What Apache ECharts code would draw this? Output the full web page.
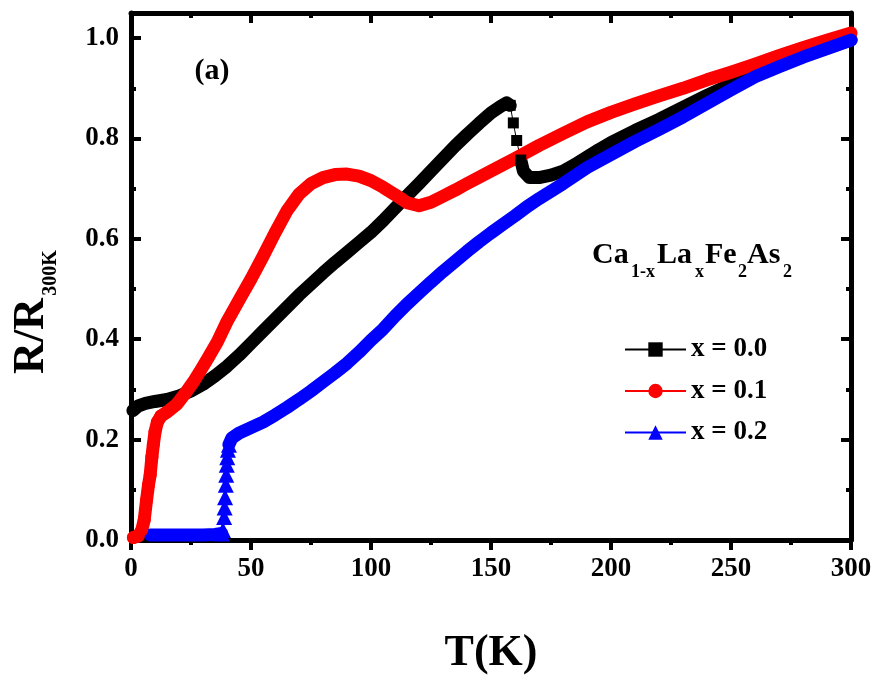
<!DOCTYPE html>
<html>
<head>
<meta charset="utf-8">
<script src="https://cdn.jsdelivr.net/npm/echarts@6/dist/echarts.min.js"></script>
<style>
  html, body { margin: 0; padding: 0; background: #fff; }
  #main { width: 879px; height: 681px; }
</style>
</head>
<body>
<div id="main"></div>
<script type="text/javascript">
// x = 0.0 : before the step, the drop itself, after the step
var blackPre = [[0.8,0.258],[3,0.267],[6,0.272],[10,0.276],[15,0.280],[20,0.287],[25,0.297],[30,0.310],
  [35,0.327],[40,0.346],[45,0.368],[50,0.392],[55,0.416],[60,0.440],[65,0.464],[70,0.488],[75,0.510],
  [80,0.532],[85,0.553],[90,0.573],[95,0.593],[100,0.613],[105,0.636],[110,0.661],[115,0.686],
  [120,0.710],[125,0.735],[130,0.760],[135,0.785],[140,0.808],[145,0.830],[150,0.851],[154,0.864],
  [156.5,0.871],[158,0.866]];
var blackDrop = [[158,0.866],[159.3,0.831],[160.7,0.796],[162.4,0.757]];
var blackPost = [[162.4,0.757],[163.5,0.735],[166,0.722],[170,0.722],[175,0.727],[180,0.735],[185,0.748],
  [190,0.763],[195,0.778],[200,0.792],[210,0.816],[220,0.838],[230,0.862],[240,0.886],[250,0.908],
  [260,0.928],[270,0.947],[280,0.964],[290,0.980],[300,0.997]];

// x = 0.1
var redRise = [[1,0.005],[3,0.008],[4.5,0.02],[5.5,0.04],[6.5,0.08],[7.3,0.11],[8,0.13],[8.7,0.165],
  [9.3,0.19],[10,0.215],[11,0.235],[12.5,0.247]];
var redRest = [[12.5,0.247],[15,0.255],[19,0.270],[23,0.295],[26,0.315],[29,0.338],[32,0.362],[36,0.395],
  [40,0.435],[45,0.478],[50,0.520],[55,0.565],[60,0.612],[65,0.656],[70,0.689],[75,0.710],[80,0.722],
  [85,0.728],[90,0.729],[95,0.725],[100,0.716],[105,0.703],[110,0.688],[115,0.672],[120,0.666],
  [125,0.673],[130,0.685],[135,0.697],[140,0.710],[150,0.735],[160,0.760],[170,0.786],[180,0.810],
  [190,0.833],[200,0.852],[210,0.869],[220,0.885],[230,0.900],[240,0.917],[250,0.932],[260,0.948],
  [270,0.965],[280,0.981],[290,0.996],[300,1.010]];

// x = 0.2
var blueFlat = [[8,0.010],[15,0.010],[20,0.010],[25,0.010],[30,0.010],[35,0.011],[37.8,0.013]];
var blueRise = [[37.8,0.013],[38.3,0.02],[38.8,0.046],[39,0.065],[39.2,0.085],[39.5,0.11],[39.7,0.13],
  [39.9,0.15],[40.1,0.165],[40.4,0.18],[40.8,0.19]];
var bluePost = [[40.8,0.19],[42,0.203],[45,0.213],[50,0.224],[55,0.235],[60,0.249],[65,0.264],[70,0.280],
  [75,0.297],[80,0.315],[85,0.333],[90,0.352],[95,0.374],[100,0.398],[105,0.420],[110,0.446],
  [115,0.470],[120,0.492],[125,0.514],[130,0.535],[135,0.555],[140,0.575],[145,0.594],[150,0.612],
  [155,0.629],[160,0.646],[165,0.664],[170,0.680],[175,0.695],[180,0.710],[190,0.742],[200,0.768],
  [210,0.794],[220,0.818],[230,0.843],[240,0.870],[250,0.897],[260,0.923],[270,0.943],[280,0.962],
  [290,0.979],[300,0.996]];

var legendNames = ['x = 0.0', 'x = 0.1', 'x = 0.2'];
var xTicks = [0, 50, 100, 150, 200, 250, 300];
var yTicks = ['0.0', '0.2', '0.4', '0.6', '0.8', '1.0'];

var FONT = "'Liberation Serif', 'Times New Roman', serif";
var chart = echarts.init(document.getElementById('main'));

function band(data, color) {
  return {
    type: 'line', data: data, symbol: 'none', silent: true,
    lineStyle: { color: color, width: 13, cap: 'round', join: 'round' },
    itemStyle: { color: color }, emphasis: { disabled: true }
  };
}
function marks(name, data, color, symbol, size) {
  return {
    name: name, type: 'line', data: data, symbol: symbol, symbolSize: size, showSymbol: true,
    silent: true, lineStyle: { color: color, width: 1 },
    itemStyle: { color: color }, emphasis: { disabled: true }
  };
}
function yAx(pos, interval, len, labels, line) {
  return {
    type: 'value', position: pos, min: 0, max: 1.05, interval: interval,
    axisLine: { show: line, lineStyle: { color: '#000', width: 5 } },
    axisTick: { show: true, inside: true, length: len, lineStyle: { color: '#000', width: 4 } },
    axisLabel: {
      show: labels, showMaxLabel: false, margin: 12, color: '#000',
      fontFamily: FONT, fontWeight: 'bold', fontSize: 27,
      formatter: function (v) { return yTicks[Math.round(v / 0.2)] || ''; }
    },
    splitLine: { show: false }
  };
}
function xAx(pos, labels, inside) {
  return {
    type: 'value', position: pos, min: 0, max: 300, interval: 50,
    axisLine: { show: true, onZero: false, lineStyle: { color: '#000', width: 5 } },
    axisTick: { show: true, inside: inside, length: 10, lineStyle: { color: '#000', width: 4 } },
    minorTick: { show: true, splitNumber: 2, length: 5, lineStyle: { color: '#000', width: 4 } },
    axisLabel: {
      show: labels, margin: 16, color: '#000', fontFamily: FONT, fontWeight: 'bold', fontSize: 27,
      formatter: function (v) { return xTicks.indexOf(v) >= 0 ? String(v) : ''; }
    },
    splitLine: { show: false }
  };
}

var bottomX = xAx('bottom', true, false);
bottomX.name = 'T(K)';
bottomX.nameLocation = 'middle';
bottomX.nameGap = 92;
bottomX.nameTextStyle = { color: '#000', fontFamily: FONT, fontWeight: 'bold', fontSize: 44 };

var option = {
  animation: false,
  backgroundColor: '#fff',
  grid: { left: 131, right: 28, top: 13, bottom: 138 },
  xAxis: [bottomX, xAx('top', false, true)],
  yAxis: [
    yAx('left', 0.2, 10, true, true),
    yAx('left', 0.1, 5, false, false),
    yAx('right', 0.2, 10, false, true),
    yAx('right', 0.1, 5, false, false)
  ],
  legend: {
    data: legendNames, orient: 'vertical', left: 619, top: 331,
    itemWidth: 61, itemHeight: 18, itemGap: 14.5, selectedMode: false,
    textStyle: { color: '#000', fontFamily: FONT, fontWeight: 'bold', fontSize: 27, lineHeight: 26 }
  },
  graphic: [
    { type: 'text', x: 212, y: 71, silent: true,
      style: { text: '(a)', fill: '#000', font: 'bold 30px ' + FONT, align: 'center', verticalAlign: 'middle' } },
    { type: 'text', x: 32, y: 336, rotation: Math.PI / 2, silent: true,
      style: { text: 'R/R', fill: '#000', font: 'bold 44px ' + FONT, align: 'center', verticalAlign: 'middle' } },
    { type: 'text', x: 51, y: 273, rotation: Math.PI / 2, silent: true,
      style: { text: '300K', fill: '#000', font: 'bold 20px ' + FONT, align: 'center', verticalAlign: 'middle' } },
    { type: 'text', x: 592, y: 255, silent: true, style: { text: 'Ca', fill: '#000', font: 'bold 30px ' + FONT, verticalAlign: 'middle' } },
    { type: 'text', x: 631, y: 272, silent: true, style: { text: '1-x', fill: '#000', font: 'bold 18px ' + FONT, verticalAlign: 'middle' } },
    { type: 'text', x: 657, y: 255, silent: true, style: { text: 'La', fill: '#000', font: 'bold 30px ' + FONT, verticalAlign: 'middle' } },
    { type: 'text', x: 695, y: 272, silent: true, style: { text: 'x', fill: '#000', font: 'bold 18px ' + FONT, verticalAlign: 'middle' } },
    { type: 'text', x: 705, y: 255, silent: true, style: { text: 'Fe', fill: '#000', font: 'bold 30px ' + FONT, verticalAlign: 'middle' } },
    { type: 'text', x: 738, y: 272, silent: true, style: { text: '2', fill: '#000', font: 'bold 18px ' + FONT, verticalAlign: 'middle' } },
    { type: 'text', x: 747, y: 255, silent: true, style: { text: 'As', fill: '#000', font: 'bold 30px ' + FONT, verticalAlign: 'middle' } },
    { type: 'text', x: 783, y: 272, silent: true, style: { text: '2', fill: '#000', font: 'bold 18px ' + FONT, verticalAlign: 'middle' } }
  ],
  series: [
    band(blackPre, '#000000'),
    marks(legendNames[0], blackDrop, '#000000', 'rect', 11),
    band(blackPost, '#000000'),
    band(redRest, '#ff0000'),
    marks(legendNames[1], redRise, '#ff0000', 'circle', 13),
    band(redRise, '#ff0000'),
    band(blueFlat, '#0000ff'),
    marks(legendNames[2], blueRise, '#0000ff', 'triangle', 16),
    band(bluePost, '#0000ff')
  ]
};
chart.setOption(option);
</script>
</body>
</html>
